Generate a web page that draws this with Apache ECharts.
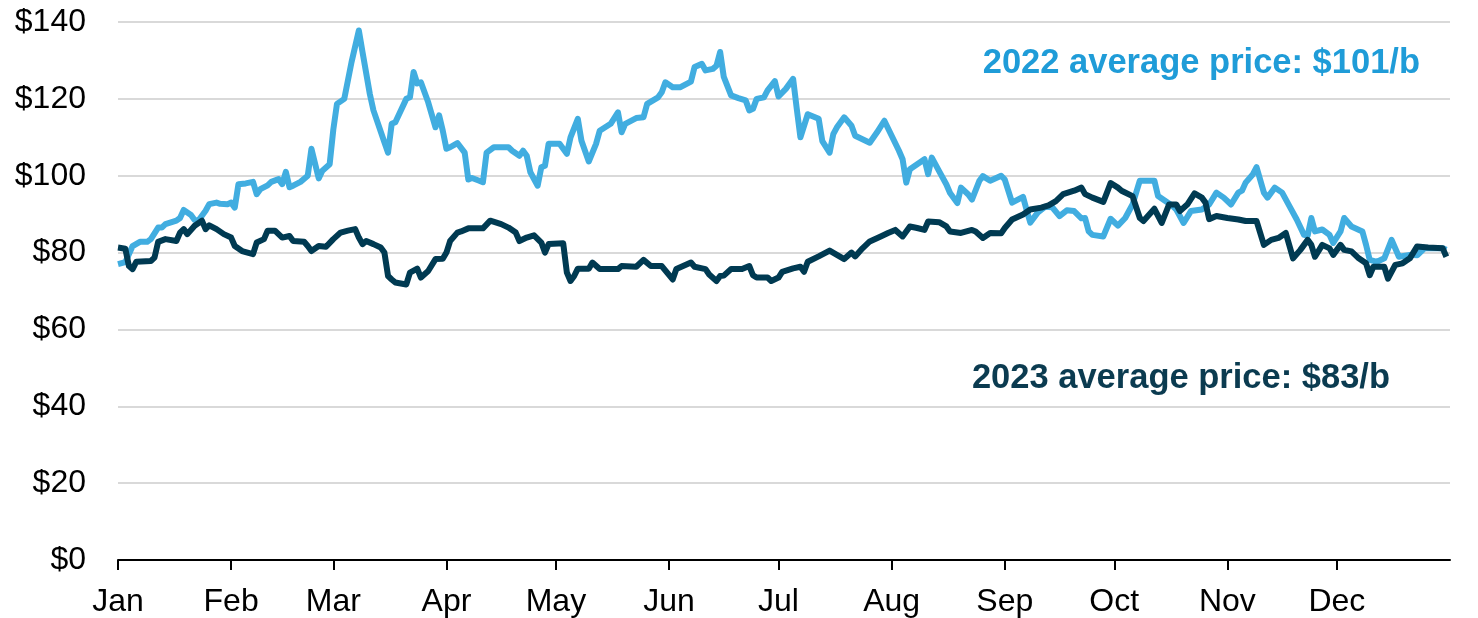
<!DOCTYPE html>
<html>
<head>
<meta charset="utf-8">
<script src="https://cdn.jsdelivr.net/npm/echarts@6/dist/echarts.min.js"></script>
<style>
html,body{margin:0;padding:0;background:#fff;}
#chart{width:1478px;height:618px;}
</style>
</head>
<body>
<div id="chart"></div>
<script>
// Month tick positions (day of year) and labels
const monthStartDays = [0,31,59,90,120,151,181,212,243,273,304,334];
const monthLabels = ['Jan','Feb','Mar','Apr','May','Jun','Jul','Aug','Sep','Oct','Nov','Dec'];
const yTicks = [0,20,40,60,80,100,120,140];

// 2022 daily price (day of year, $/b)
const days2022 = [0,2,4,6,8,9,11,12,13,16,17,18,20,21,22,24,25,27,28,30,31,32,33,35,37,38,39,41,42,44,45,46,47,48,50,52,53,55,56,58,59,60,62,64,66,67,69,70,73,74,75,76,79,80,81,82,83,85,87,88,89,90,91,93,95,96,97,99,100,101,103,107,108,110,111,112,113,115,116,117,118,121,123,124,126,127,129,131,132,135,137,138,139,142,144,145,148,149,150,152,154,157,158,160,161,163,164,165,166,168,170,172,173,174,175,177,178,180,181,183,185,186,187,189,190,192,193,195,196,197,199,201,202,204,206,208,210,212,214,215,216,217,219,221,222,223,225,227,228,230,231,233,234,236,237,239,242,243,245,248,249,250,252,254,256,258,260,262,264,265,266,267,270,272,274,276,278,280,284,285,287,289,290,292,294,297,299,301,303,305,307,308,309,311,312,314,315,317,319,321,323,325,326,327,328,330,332,333,335,336,338,341,342,343,345,347,349,351,354,356,358,363,364];
const price2022 = [77,77.5,81.7,82.8,82.8,83.5,86.5,86.5,87.4,88.3,89,91.1,89.8,88.5,88.3,90.9,92.6,93,92.7,92.6,93,91.7,97.8,98,98.4,95.2,96.5,97.5,98.4,99.1,97.8,101,97,97.4,98.4,100,107,99.3,101.3,103,112,118.7,120,129.6,137.8,132.2,121.3,117,108.7,106,113.5,113.9,120,120.4,127,124,124.3,119.1,112.6,115.7,111.7,107,107.4,108.5,106,99,99.4,98.7,98.3,106,107.4,107.4,106.5,105.2,106.5,105.2,100.9,97.4,102.2,102.6,108.3,108.3,105.7,110,114.8,109.1,103.7,108.3,111.7,113.5,116.5,111.3,113.5,115,115.2,118.7,120.4,121.7,124.3,123,123,124.5,128.3,129.1,127.4,127.8,128.6,132.2,125.7,120.9,120.2,119.6,117,117.4,120,120.4,122.2,124.6,120.6,122.6,125.2,117.4,110,116,115.6,114.8,109,106,110.8,112.6,115.2,113,110.4,109.5,108.6,111.3,114.3,110.4,106.5,104.3,98.2,101.7,103,104.3,100.4,104.7,101.2,97.7,95.5,92.9,96.9,95.1,93.8,98.6,99.9,98.7,100,99,93,94.5,91,87.8,90.4,91.9,91.8,89.5,91,90.8,88.9,89,85.5,84.6,84.2,88.8,87,89,92.5,98.7,98.7,94.7,93.4,92.1,91.2,87.7,90.8,91.2,92.5,95.6,94.3,92.5,95.6,96.1,98.2,100.4,102.2,95.6,94.3,96.9,95.6,92.1,88.6,84.6,84.4,89,85.5,86,84.6,82.5,85.5,89,86.8,85.5,82,78.1,77.6,78.5,83.3,78.9,79.4,79.3,81.1,81.1,80.7];

// 2023 daily price (day of year, $/b)
const days2023 = [0,2,3,4,5,9,10,11,13,16,17,18,19,21,23,24,25,27,29,31,32,34,37,38,40,41,43,45,47,48,51,52,53,55,57,59,61,63,65,66,67,68,70,72,73,74,75,76,79,80,82,83,85,87,89,90,91,93,94,96,100,102,105,107,109,110,112,114,116,117,118,122,123,124,125,126,129,130,132,137,138,142,144,146,149,152,153,157,158,161,162,164,165,166,168,171,173,174,175,178,179,181,182,185,187,188,189,192,195,197,199,201,202,204,206,209,211,213,215,217,219,221,222,225,227,228,231,234,235,237,239,242,243,245,248,250,253,255,257,259,262,264,265,267,270,271,272,274,275,278,280,281,284,286,288,290,291,293,295,297,298,299,301,304,307,309,312,314,316,318,320,322,324,326,327,328,330,332,333,335,336,338,340,342,343,344,347,348,350,352,354,356,359,363,364];
const price2023 = [81.3,81,76.5,75.7,77.6,77.8,78.7,82.8,83.5,83,85.2,86.1,84.8,87,88.3,86.1,87.1,86.1,84.8,83.9,81.7,80.4,79.6,82.6,83.5,85.7,85.7,83.9,84.3,83,82.8,81.7,80.4,81.7,81.5,83.5,85.2,85.7,86.1,83.9,82.2,83,82.2,81.3,80,73.9,73,72.2,71.7,74.8,75.8,73.5,75.2,78.3,78.4,80,83,85.2,85.5,86.3,86.3,88.3,87.4,86.5,85.2,83,83.9,84.5,82.6,80,82.2,82.4,74.8,72.6,73.9,75.8,75.8,77.4,75.7,75.7,76.5,76.3,78.1,76.5,76.5,73,75.7,77.4,76.3,75.7,74.3,72.6,73.9,74,75.7,75.7,76.5,74.1,73.5,73.5,72.6,73.5,75,75.9,76.3,75,77.6,79,80.5,79.4,78.3,80,79,81.1,82.9,84.2,85.1,85.9,84.2,86.8,86.4,85.9,88.1,87.9,86.8,85.5,85.1,85.9,85.5,83.8,85.1,85,86.4,88.6,89.9,91.2,91.7,92.3,93.4,95.2,96.1,96.9,95.2,94.3,93.2,95.6,98.1,96.9,96.1,94.7,89,88.2,91.4,87.7,92.5,92.5,90.8,92.5,95.4,94.3,93,88.7,89.5,89,88.6,88.2,88.2,82,83.3,83.8,85.1,78.5,80.7,83.3,82,78.9,82,81.1,79.4,82,80.7,80.3,78.5,77.2,74.1,76.3,76.3,73.2,76.8,77.2,78.5,81.6,81.3,81.1,78.9];

const label2022 = '2022 average price: $101/b';
const label2023 = '2023 average price: $83/b';

const zip = (d, v) => d.map((x, i) => [x, v[i]]);

const chart = echarts.init(document.getElementById('chart'), null, {renderer: 'canvas'});
const FONT = '"Liberation Sans", Arial, sans-serif';
chart.setOption({
  animation: false,
  backgroundColor: '#ffffff',
  grid: {left: 118, right: 28, top: 22, bottom: 58, containLabel: false},
  xAxis: {
    type: 'value', min: 0, max: 365,
    axisLine: {show: true, lineStyle: {color: '#000', width: 2}},
    axisTick: {show: true, customValues: monthStartDays, length: 10, lineStyle: {color: '#000', width: 2}},
    axisLabel: {
      customValues: monthStartDays, margin: 26,
      fontSize: 32, color: '#000', fontFamily: FONT,
      formatter: v => monthLabels[monthStartDays.indexOf(Math.round(v))] || ''
    },
    splitLine: {show: false}
  },
  yAxis: {
    type: 'value', min: 0, max: 140, interval: 20,
    axisLine: {show: false}, axisTick: {show: false},
    axisLabel: {margin: 32, fontSize: 32, color: '#000', fontFamily: FONT, formatter: v => '$' + v},
    splitLine: {show: true, lineStyle: {color: '#d9d9d9', width: 2}}
  },
  series: [
    {name: '2022', type: 'line', data: zip(days2022, price2022), showSymbol: false, symbol: 'none',
     lineStyle: {color: '#41ade0', width: 6, join: 'round'}, z: 2},
    {name: '2023', type: 'line', data: zip(days2023, price2023), showSymbol: false, symbol: 'none',
     lineStyle: {color: '#003a52', width: 6, join: 'round'}, z: 3}
  ],
  graphic: [
    {type: 'text', right: 58, top: 46, style: {text: label2022, fill: '#1f9cd8', font: 'bold 34.5px ' + FONT}},
    {type: 'text', right: 88, top: 361, style: {text: label2023, fill: '#0b3b50', font: 'bold 34.5px ' + FONT}}
  ]
});
</script>
</body>
</html>
